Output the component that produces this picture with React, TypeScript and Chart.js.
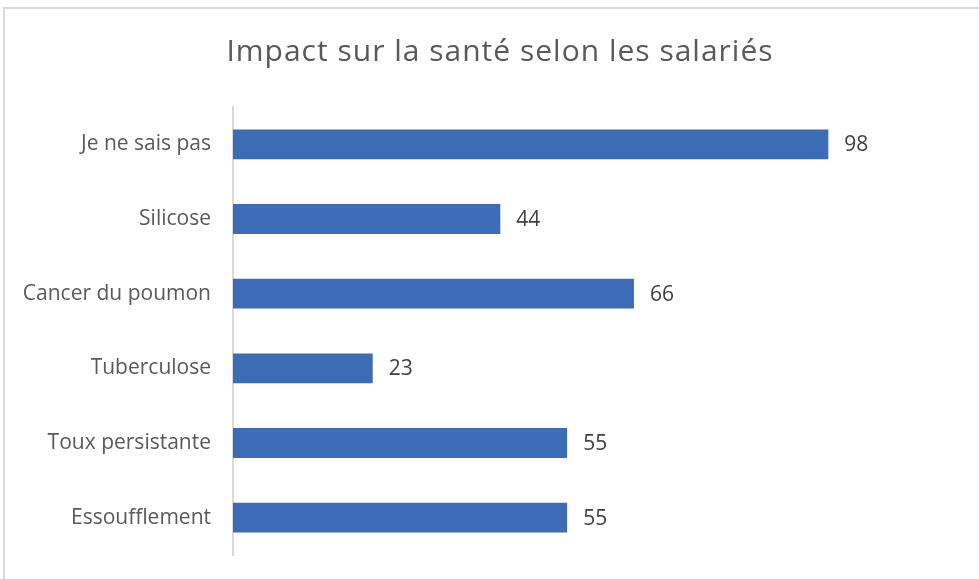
import React, { useEffect, useRef } from "react";
import { Chart, registerables } from "chart.js";

Chart.register(...registerables);

const categories = [
  "Je ne sais pas",
  "Silicose",
  "Cancer du poumon",
  "Tuberculose",
  "Toux persistante",
  "Essoufflement",
];
const values = [98, 44, 66, 23, 55, 55];
const titleText = "Impact sur la santé selon les salariés";

const valueLabels = {
  id: "valueLabels",
  afterDatasetsDraw(chart: any) {
    const ctx = chart.ctx;
    const meta = chart.getDatasetMeta(0);
    ctx.save();
    ctx.font = "21px 'Open Sans'";
    ctx.fillStyle = "#404040";
    ctx.textAlign = "left";
    ctx.textBaseline = "middle";
    meta.data.forEach((el: any, i: number) => {
      ctx.fillText(String(chart.data.datasets[0].data[i]), el.x + 16, el.y + 1);
    });
    ctx.restore();
  },
};

const titlePlugin = {
  id: "customTitle",
  afterDraw(chart: any) {
    const ctx = chart.ctx;
    ctx.save();
    ctx.font = "30px 'Open Sans'";
    (ctx as any).letterSpacing = "1px";
    ctx.fillStyle = "#595959";
    ctx.textAlign = "center";
    ctx.textBaseline = "middle";
    ctx.fillText(titleText, 500, 52);
    ctx.restore();
  },
};

export default function App() {
  const ref = useRef<HTMLCanvasElement | null>(null);
  useEffect(() => {
    document.body.style.margin = "0";
    const chart = new Chart(ref.current!, {
      type: "bar",
      data: {
        labels: categories,
        datasets: [
          {
            data: values,
            backgroundColor: "#3D6CB6",
            categoryPercentage: 0.8,
            barPercentage: 0.5,
          },
        ],
      },
      options: {
        indexAxis: "y",
        animation: false,
        responsive: false,
        layout: { padding: { left: 0, right: 17, top: 107, bottom: 24 } },
        plugins: {
          legend: { display: false },
          tooltip: { enabled: false },
          title: { display: false },
        },
        scales: {
          x: {
            display: false,
            min: 0,
            max: 120,
          },
          y: {
            afterFit(scale: any) {
              scale.width = 233;
              scale.paddingTop = 0;
              scale.paddingBottom = 0;
            },
            grid: { display: false, drawTicks: false },
            border: { display: true, color: "#D9D9D9", width: 2 },
            ticks: {
              padding: 22,
              color: "#595959",
              font: { family: "'Open Sans'", size: 21 },
            },
          },
        },
      },
      plugins: [valueLabels, titlePlugin],
    });
    return () => chart.destroy();
  }, []);
  return (
    <div style={{ position: "relative", width: 979, height: 579, overflow: "hidden", background: "#fff" }}>
      <div
        style={{
          position: "absolute",
          left: 3,
          top: 7,
          width: 1200,
          height: 1200,
          border: "2px solid #D9D9D9",
          boxSizing: "border-box",
        }}
      />
      <canvas ref={ref} width={979} height={579} style={{ position: "absolute", left: 0, top: 0 }} />
    </div>
  );
}
